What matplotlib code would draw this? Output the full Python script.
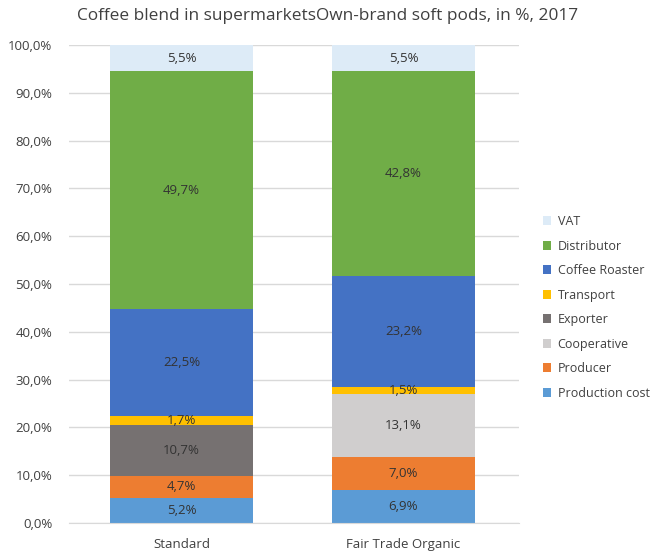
import numpy as np
import matplotlib.pyplot as plt
from matplotlib.ticker import FuncFormatter
from matplotlib.patches import Patch

categories = ["Standard", "Fair Trade Organic"]
series = ["Production cost", "Producer", "Cooperative", "Exporter",
          "Transport", "Coffee Roaster", "Distributor", "VAT"]
production_cost = [5.2, 6.9]
producer = [4.7, 7.0]
cooperative = [0.0, 13.1]
exporter = [10.7, 0.0]
transport = [1.7, 1.5]
coffee_roaster = [22.5, 23.2]
distributor = [49.7, 42.8]
vat = [5.5, 5.5]
values = [production_cost, producer, cooperative, exporter,
          transport, coffee_roaster, distributor, vat]
colors = ["#5B9BD5", "#ED7D31", "#D0CECE", "#767171",
          "#FFC000", "#4472C4", "#70AD47", "#DDEBF7"]

plt.rcParams['font.family'] = ['Open Sans', 'DejaVu Sans']

fig = plt.figure(figsize=(6.56, 5.52), dpi=100)
ax = fig.add_axes([0.105, 0.0525, 0.686, 0.866])

x = np.arange(len(categories))
bottom = np.zeros(len(categories))
for name, vals, col in zip(series, values, colors):
    vals = np.array(vals)
    ax.bar(x, vals, 0.645, bottom=bottom, color=col, zorder=2)
    for xi, v, b in zip(x, vals, bottom):
        if v > 0:
            ax.text(xi, b + v / 2, f"{v:.1f}%".replace(".", ","),
                    ha="center", va="center", fontsize=9.5, color="#333333", zorder=3)
    bottom += vals

ax.set_xlim(-0.507, 1.52)
ax.set_ylim(0, 100)
ax.set_yticks(np.arange(0, 101, 10))
ax.yaxis.set_major_formatter(FuncFormatter(lambda v, p: f"{v:.1f}%".replace(".", ",")))
ax.set_xticks(x)
ax.set_xticklabels(categories)
ax.tick_params(length=0, labelsize=9.5, colors="#404040")
ax.tick_params(axis="x", pad=11)
ax.tick_params(axis="y", pad=12)
ax.grid(axis="y", color="#D9D9D9", linewidth=1, zorder=0)
for s in ["top", "right", "left"]:
    ax.spines[s].set_visible(False)
ax.spines["bottom"].set_color("#D9D9D9")

fig.suptitle("Coffee blend in supermarketsOwn-brand soft pods, in %, 2017",
             x=0.5, y=0.985, fontsize=12.4, color="#404040")

handles = [Patch(facecolor=c, label=n) for n, c in zip(series, colors)][::-1]
fig.legend(handles=handles, loc="center left", bbox_to_anchor=(0.81, 0.443),
           frameon=False, fontsize=9, handlelength=0.7, handleheight=0.7,
           labelspacing=0.92, labelcolor="#404040", handletextpad=0.5)

fig.savefig("out.png", dpi=100)
